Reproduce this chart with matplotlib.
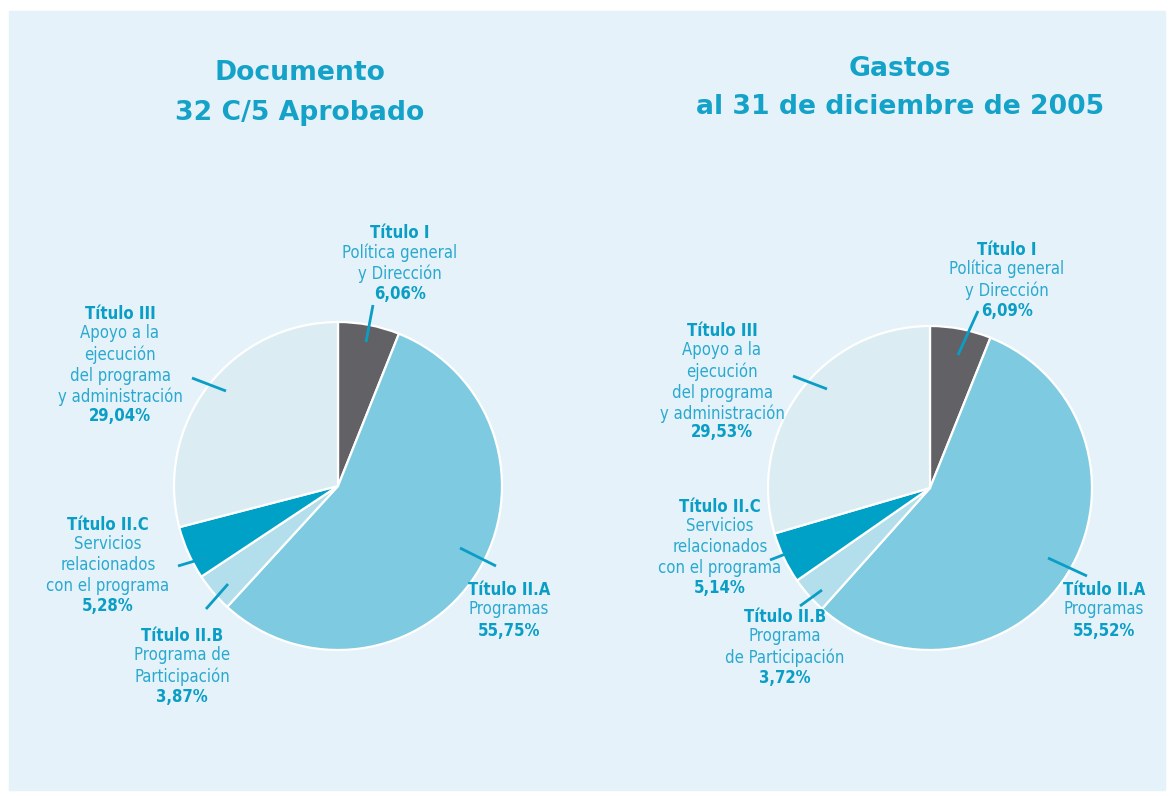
import matplotlib.pyplot as plt
from matplotlib.patches import Rectangle

# data
categorias = ['Título I', 'Título II.A', 'Título II.B', 'Título II.C', 'Título III']
aprobado = [6.06, 55.75, 3.87, 5.28, 29.04]
gastos = [6.09, 55.52, 3.72, 5.14, 29.53]
colores = ['#626266', '#7ecbe1', '#b3deec', '#00a1c6', '#dcecf3']

desc_izq = ['Política general\ny Dirección', 'Programas', 'Programa de\nParticipación',
            'Servicios\nrelacionados\ncon el programa',
            'Apoyo a la\nejecución\ndel programa\ny administración']
desc_der = ['Política general\ny Dirección', 'Programas', 'Programa\nde Participación',
            'Servicios\nrelacionados\ncon el programa',
            'Apoyo a la\nejecución\ndel programa\ny administración']

AZUL = '#0a9ec6'
W, H = 1171, 796

fig = plt.figure(figsize=(W / 100, H / 100), dpi=100)
ax = fig.add_axes([0, 0, 1, 1])
ax.set_xlim(0, W)
ax.set_ylim(0, H)
ax.set_aspect('equal')
ax.axis('off')

ax.add_patch(Rectangle((9, H - 790), 1156, 779, color='#e5f2f9', zorder=0))


def py(y):
    return H - y


def pastel(vals, cx, cy, r):
    ax.pie(vals, colors=colores, startangle=90, counterclock=False,
           center=(cx, py(cy)), radius=r, frame=True,
           wedgeprops=dict(edgecolor='white', linewidth=1.6))


def etiqueta(x, y, titulo, desc, pct, linea):
    n = desc.count('\n') + 1
    ax.text(x, py(y), titulo, ha='center', va='center', fontsize=12,
            fontweight='bold', color=AZUL, fontstretch='condensed')
    ax.text(x, py(y + 10), desc, ha='center', va='top', fontsize=12,
            color='#2aa9d0', linespacing=1.22, fontstretch='condensed')
    ax.text(x, py(y + 20.3 * (n + 1)), pct, ha='center', va='center', fontsize=12,
            fontweight='bold', color=AZUL, fontstretch='condensed')
    (x0, y0), (x1, y1) = linea
    ax.plot([x0, x1], [py(y0), py(y1)], color=AZUL, lw=2, solid_capstyle='butt')


pastel(aprobado, 338, 486, 164)
pastel(gastos, 930, 488, 162)
ax.set_xlim(0, W)
ax.set_ylim(0, H)
ax.axis('off')

# titulos
ax.text(300, py(93), 'Documento\n32 C/5 Aprobado', ha='center', va='center',
        fontsize=19.2, fontweight='bold', color='#14a2c8', linespacing=1.65)
ax.text(900, py(88), 'Gastos\nal 31 de diciembre de 2005', ha='center', va='center',
        fontsize=19.2, fontweight='bold', color='#14a2c8', linespacing=1.6)

pos_izq = [(400, 233, ((373, 305), (366, 342))),
           (509, 590, ((460, 548), (496, 566))),
           (182, 636, ((206, 609), (228, 584))),
           (108, 525, ((178, 566), (208, 557))),
           (120, 314, ((192, 378), (226, 391)))]
pos_der = [(1007, 250, ((978, 311), (958, 355))),
           (1104, 590, ((1048, 558), (1087, 576))),
           (785, 617, ((800, 606), (822, 590))),
           (720, 507, ((770, 560), (796, 550))),
           (722, 331, ((793, 376), (827, 389)))]

for i in range(len(categorias)):
    x, y, ln = pos_izq[i]
    etiqueta(x, y, categorias[i], desc_izq[i], ('%.2f%%' % aprobado[i]).replace('.', ','), ln)
    x, y, ln = pos_der[i]
    etiqueta(x, y, categorias[i], desc_der[i], ('%.2f%%' % gastos[i]).replace('.', ','), ln)

fig.savefig('out.png', dpi=100, facecolor='white')
